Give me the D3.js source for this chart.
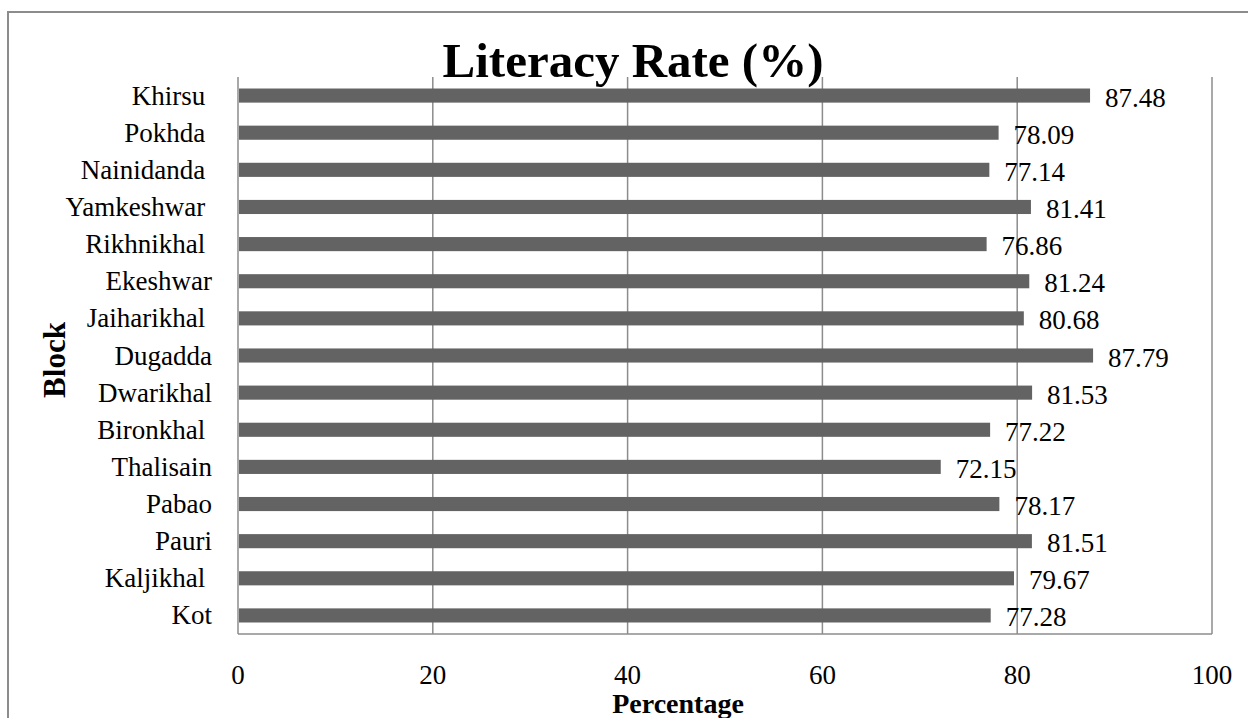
<!DOCTYPE html>
<html>
<head>
<meta charset="utf-8">
<script src="https://cdn.jsdelivr.net/npm/d3@7"></script>
<style>
  html, body { margin: 0; padding: 0; background: #fff; }
  svg { display: block; }
  text { font-family: "Liberation Serif", "Times New Roman", serif; fill: #000; white-space: pre; }
</style>
</head>
<body>
<svg id="chart" width="1248" height="718"></svg>
<script>
// Block names (top to bottom) and literacy rate in percent
const blocks = ["Khirsu ", "Pokhda ", "Nainidanda ", "Yamkeshwar ", "Rikhnikhal ", "Ekeshwar", "Jaiharikhal ",
                "Dugadda", "Dwarikhal", "Bironkhal ", "Thalisain", "Pabao", "Pauri", "Kaljikhal ", "Kot"];
const literacy = [87.48, 78.09, 77.14, 81.41, 76.86, 81.24, 80.68, 87.79, 81.53, 77.22, 72.15, 78.17, 81.51, 79.67, 77.28];
const xTicks = [0, 20, 40, 60, 80, 100];

const svg = d3.select("#chart");
const plot = { left: 238, right: 1212, top: 77, bottom: 634 };

// outer chart frame (extends past the right and bottom edges)
svg.append("rect")
  .attr("x", 8).attr("y", 12).attr("width", 1400).attr("height", 900)
  .attr("fill", "none").attr("stroke", "#8c8c8c").attr("stroke-width", 2);

const x = d3.scaleLinear().domain([0, 100]).range([plot.left, plot.right]);
const y = d3.scaleBand().domain(blocks).range([plot.top, plot.bottom]).paddingInner(0.62).paddingOuter(0.31);

// vertical gridlines
svg.append("g").selectAll("line").data(xTicks).join("line")
  .attr("x1", d => x(d)).attr("x2", d => x(d))
  .attr("y1", plot.top).attr("y2", plot.bottom)
  .attr("stroke", "#8c8c8c").attr("stroke-width", 1.5);

// bottom axis line
svg.append("line")
  .attr("x1", plot.left).attr("x2", plot.right)
  .attr("y1", plot.bottom).attr("y2", plot.bottom)
  .attr("stroke", "#8c8c8c").attr("stroke-width", 1.5);

// bars
svg.append("g").selectAll("rect").data(blocks).join("rect")
  .attr("x", x(0) + 1)
  .attr("y", d => y(d))
  .attr("width", (d, i) => x(literacy[i]) - x(0) - 1)
  .attr("height", y.bandwidth())
  .attr("fill", "#636363");

// value labels
svg.append("g").selectAll("text").data(blocks).join("text")
  .attr("x", (d, i) => x(literacy[i]) + 15)
  .attr("y", d => y(d) + y.bandwidth() / 2 + 11)
  .attr("font-size", 27)
  .text((d, i) => literacy[i].toFixed(2));

// category labels
svg.append("g").selectAll("text").data(blocks).join("text")
  .attr("x", 212)
  .attr("y", d => y(d) + y.bandwidth() / 2 + 9)
  .attr("text-anchor", "end")
  .attr("font-size", 27)
  .attr("xml:space", "preserve")
  .text(d => d);

// x tick labels
svg.append("g").selectAll("text").data(xTicks).join("text")
  .attr("x", d => x(d))
  .attr("y", 684)
  .attr("text-anchor", "middle")
  .attr("font-size", 27)
  .text(d => d);

// title
svg.append("text")
  .attr("x", 633).attr("y", 77)
  .attr("text-anchor", "middle")
  .attr("font-size", 49).attr("font-weight", "bold")
  .text("Literacy Rate (%)");

// axis titles
svg.append("text")
  .attr("x", 678).attr("y", 713)
  .attr("text-anchor", "middle")
  .attr("font-size", 28).attr("font-weight", "bold")
  .text("Percentage");

svg.append("text")
  .attr("transform", "translate(65,360) rotate(-90)")
  .attr("text-anchor", "middle")
  .attr("font-size", 31).attr("font-weight", "bold")
  .text("Block");
</script>
</body>
</html>
